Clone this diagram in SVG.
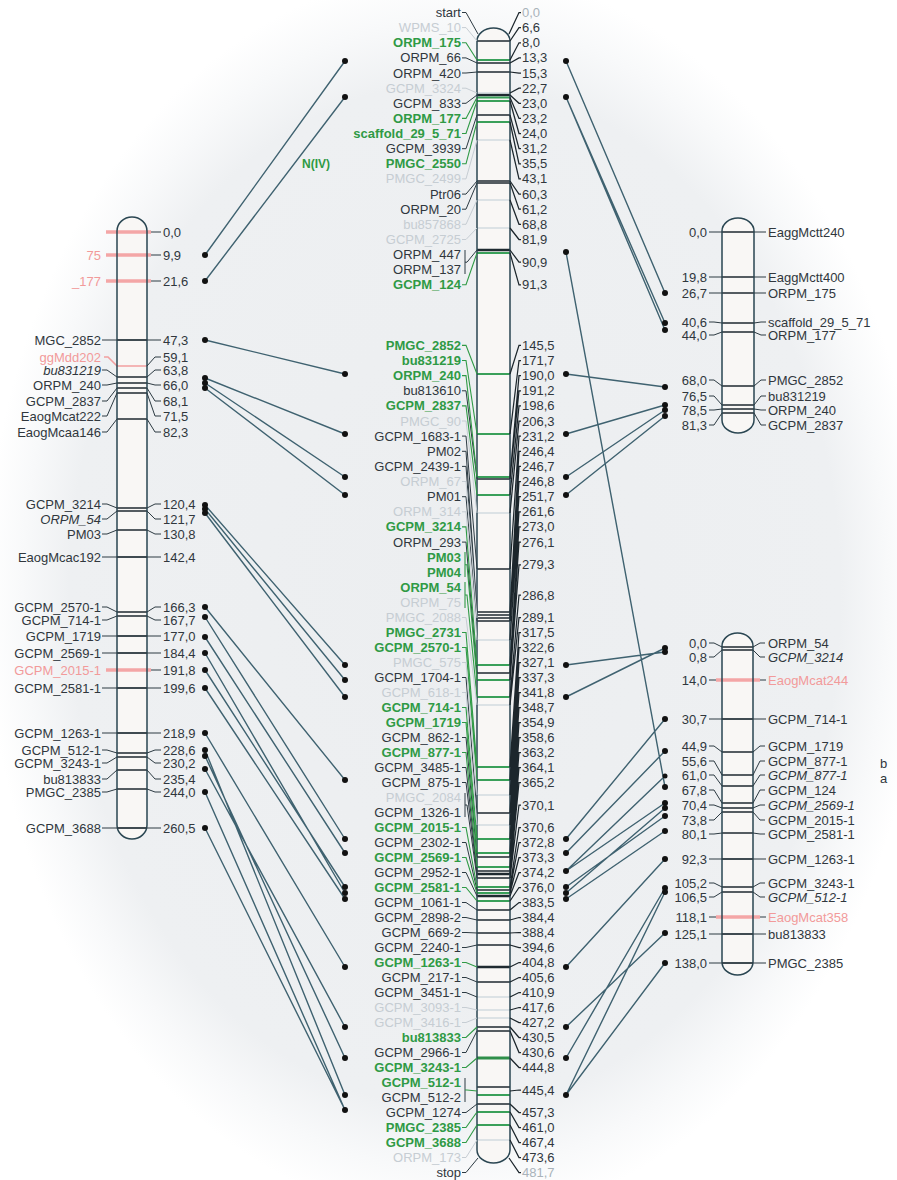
<svg xmlns="http://www.w3.org/2000/svg" width="897" height="1180" viewBox="0 0 897 1180">
<defs>
<radialGradient id="bgv" gradientUnits="userSpaceOnUse" cx="0" cy="0" r="1" gradientTransform="translate(455 595) scale(470 625)">
<stop offset="0" stop-color="#eceef0"/>
<stop offset="0.82" stop-color="#eef0f2"/>
<stop offset="0.92" stop-color="#f8f9fa"/>
<stop offset="1" stop-color="#ffffff"/>
</radialGradient>
<style>
text{font-family:"Liberation Sans",Arial,sans-serif;font-size:13px;fill:#30373d}
.e{text-anchor:end}
.g{fill:#2f9a45;font-weight:bold}
.f{fill:#c6cdd3}
.r{fill:#f29a9a}
.i{font-style:italic}
.lt{fill:#a9b3ba}
.chf{fill:#f9f7f5}
.cho{fill:none;stroke:#2a4652;stroke-width:1.5}
.bd{stroke:#1f2a30;stroke-width:1.4;fill:none}
.bk{stroke:#1f2a30;stroke-width:2.6;fill:none}
.bg{stroke:#3aa05a;stroke-width:1.8;fill:none}
.bgk{stroke:#2f8f4a;stroke-width:3;fill:none}
.bf{stroke:#bfcdd5;stroke-width:1.2;fill:none}
.br{stroke:#f4a6a6;stroke-width:3.5;fill:none}
.brt{stroke:#f2a0a0;stroke-width:1.6;fill:none}
.ld{stroke:#2c3a42;stroke-width:1;fill:none}
.lr{stroke:#1c262c;stroke-width:1.25;fill:none}
.lg{stroke:#2f9a45;stroke-width:1.1;fill:none}
.lf{stroke:#c6cdd3;stroke-width:1;fill:none}
.cn{stroke:#3f6270;stroke-width:1.4;fill:none}
.dot{fill:#111}
</style>
</defs>
<rect width="897" height="1180" fill="#ffffff"/>
<rect width="897" height="1180" fill="url(#bgv)"/>

<g id="chrCentral">
<rect class="chf" x="477" y="28" width="33" height="1135" rx="16.5" ry="13"/>
<path class="bd" d="M477 41H510M477 63H510M477 72H510M477 115H510M477 181H510M477 183H510M477 479H510M477 569H510M477 612H510M477 615H510M477 618H510M477 621H510M477 673H510M477 813H510M477 857H510M477 871H510M477 878H510M477 890H510M477 910H510M477 920H510M477 933H510M477 945H510M477 982H510M477 1027H510M477 1031H510M477 1087H510M477 1104H510"/>
<path class="bk" d="M477 95H510M477 250H510M477 874H510M477 896H510M477 967H510"/>
<path class="bg" d="M477 60H510M477 97.5H510M477 101H510M477 122H510M477 253H510M477 374H510M477 434H510M477 477H510M477 495H510M477 665H510M477 680H510M477 697H510M477 767H510M477 780H510M477 839H510M477 853H510M477 867H510M477 887H510M477 893H510M477 901H510M477 1095H510M477 1112H510M477 1125H510"/>
<path class="bgk" d="M477 1058H510"/>
<path class="bf" d="M477 93H510M477 140H510M477 200H510M477 228H510M477 513H510M477 640H510M477 705H510M477 795H510M477 825H510M477 997H510M477 1010H510M477 1018H510M477 1140H510"/>
<rect class="cho" x="477" y="28" width="33" height="1135" rx="16.5" ry="13"/>
<path class="ld" d="M462 12.5h4L478 34M462 57.9h4L477 63M462 73h4L477 72M462 103.3h4L477 95M462 148.7h4L477 115M462 194.1h4L477 181M462 209.2h4L477 183M465 250V274M465 262.2h2L477 250M462 390.8h4L477 479M462 436.1h4L477 569M462 451.3h4L477 612M462 466.4h4L477 615M462 496.7h4L477 621M462 542.1h4L477 673M462 677.5h4L477 813M462 737.5h4L477 857M462 767.5h4L477 871M462 782.5h4L477 874M465 793V817M465 805h2L477 878M462 842.5h4L477 890M462 872.5h4L477 896M462 902.5h4L477 910M462 917.5h4L477 920M462 932.5h4L477 933M462 947.5h4L477 945M462 977.5h4L477 982M462 992.5h4L477 997M462 1052.5h4L477 1031M465 1078V1102M462 1112.5h4L477 1104M462 1172.5h4L478 1158"/>
<path class="lg" d="M462 42.8h4L477 60M462 118.4h4L477 97.5M462 133.5h4L477 101M462 163.8h4L477 122M462 284.8h4L477 253M462 345.4h4L477 374M462 360.5h4L477 434M462 375.6h4L477 477M462 405.9h4L477 495M462 526.9h4L477 665M465 552V577M465 564.8h2L477 680M465 582V608M465 595h2L477 697M462 632.5h4L477 767M462 647.5h4L477 780M462 707.5h4L477 839M462 722.5h4L477 853M462 752.5h4L477 867M462 827.5h4L477 887M462 857.5h4L477 893M462 887.5h4L477 901M462 962.5h4L477 967M462 1037.5h4L477 1027M462 1067.5h4L477 1058M465 1090h2L477 1091M462 1127.5h4L477 1112M462 1142.5h4L477 1125"/>
<path class="lf" d="M462 27.6h4L477 41M462 88.2h4L477 93M462 178.9h4L477 140M462 224.3h4L477 200M462 239.5h4L477 228M462 421h4L477 513M462 481.5h4L477 618M462 511.8h4L477 640M462 617.5h4L477 705M462 662.5h4L477 795M462 692.5h4L477 825M462 1007.5h4L477 1010M462 1022.5h4L477 1018M462 1157.5h4L477 1140"/>
<path class="lr" d="M509 34L519 12.5h2M510 41L519 27.6h2M510 60L519 42.8h2M510 63L519 57.9h2M510 72L519 73h2M510 93L519 88.2h2M510 95L519 103.3h2M510 97.5L519 118.4h2M510 101L519 133.5h2M510 115L519 148.7h2M510 122L519 163.8h2M510 140L519 178.9h2M510 181L519 194.1h2M510 183L519 209.2h2M510 200L519 224.3h2M510 228L519 239.5h2M510 250L519 262.2h2M510 253L519 284.8h2M510 374L519 345.4h2M510 434L519 360.5h2M510 477L519 375.6h2M510 479L519 390.8h2M510 495L519 405.9h2M510 513L519 421h2M510 569L519 436.1h2M510 612L519 451.3h2M510 615L519 466.4h2M510 618L519 481.5h2M510 621L519 496.7h2M510 640L519 511.8h2M510 665L519 526.9h2M510 673L519 542.1h2M510 680L519 564.8h2M510 697L519 595h2M510 705L519 617.5h2M510 767L519 632.5h2M510 780L519 647.5h2M510 795L519 662.5h2M510 813L519 677.5h2M510 825L519 692.5h2M510 839L519 707.5h2M510 853L519 722.5h2M510 857L519 737.5h2M510 867L519 752.5h2M510 871L519 767.5h2M510 874L519 782.5h2M510 878L519 805h2M510 887L519 827.5h2M510 890L519 842.5h2M510 893L519 857.5h2M510 896L519 872.5h2M510 901L519 887.5h2M510 910L519 902.5h2M510 920L519 917.5h2M510 933L519 932.5h2M510 945L519 947.5h2M510 967L519 962.5h2M510 982L519 977.5h2M510 997L519 992.5h2M510 1010L519 1007.5h2M510 1018L519 1022.5h2M510 1027L519 1037.5h2M510 1031L519 1052.5h2M510 1058L519 1067.5h2M510 1091L519 1090h2M510 1104L519 1112.5h2M510 1112L519 1127.5h2M510 1125L519 1142.5h2M510 1140L519 1157.5h2M509 1158L519 1172.5h2"/>
<g class="e">
<text x="461" y="17">start</text>
<text x="461" y="32.1" class="f">WPMS_10</text>
<text x="461" y="47.3" class="g">ORPM_175</text>
<text x="461" y="62.4">ORPM_66</text>
<text x="461" y="77.5">ORPM_420</text>
<text x="461" y="92.7" class="f">GCPM_3324</text>
<text x="461" y="107.8">GCPM_833</text>
<text x="461" y="122.9" class="g">ORPM_177</text>
<text x="461" y="138" class="g">scaffold_29_5_71</text>
<text x="461" y="153.2">GCPM_3939</text>
<text x="461" y="168.3" class="g">PMGC_2550</text>
<text x="461" y="183.4" class="f">PMGC_2499</text>
<text x="461" y="198.6">Ptr06</text>
<text x="461" y="213.7">ORPM_20</text>
<text x="461" y="228.8" class="f">bu857868</text>
<text x="461" y="244" class="f">GCPM_2725</text>
<text x="461" y="259.1">ORPM_447</text>
<text x="461" y="274.2">ORPM_137</text>
<text x="461" y="289.3" class="g">GCPM_124</text>
<text x="461" y="349.9" class="g">PMGC_2852</text>
<text x="461" y="365" class="g">bu831219</text>
<text x="461" y="380.1" class="g">ORPM_240</text>
<text x="461" y="395.3">bu813610</text>
<text x="461" y="410.4" class="g">GCPM_2837</text>
<text x="461" y="425.5" class="f">PMGC_90</text>
<text x="461" y="440.6">GCPM_1683-1</text>
<text x="461" y="455.8">PM02</text>
<text x="461" y="470.9">GCPM_2439-1</text>
<text x="461" y="486" class="f">ORPM_67</text>
<text x="461" y="501.2">PM01</text>
<text x="461" y="516.3" class="f">ORPM_314</text>
<text x="461" y="531.4" class="g">GCPM_3214</text>
<text x="461" y="546.6">ORPM_293</text>
<text x="461" y="561.7" class="g">PM03</text>
<text x="461" y="576.8" class="g">PM04</text>
<text x="461" y="592" class="g">ORPM_54</text>
<text x="461" y="607" class="f">ORPM_75</text>
<text x="461" y="622" class="f">PMGC_2088</text>
<text x="461" y="637" class="g">PMGC_2731</text>
<text x="461" y="652" class="g">GCPM_2570-1</text>
<text x="461" y="667" class="f">PMGC_575</text>
<text x="461" y="682">GCPM_1704-1</text>
<text x="461" y="697" class="f">GCPM_618-1</text>
<text x="461" y="712" class="g">GCPM_714-1</text>
<text x="461" y="727" class="g">GCPM_1719</text>
<text x="461" y="742">GCPM_862-1</text>
<text x="461" y="757" class="g">GCPM_877-1</text>
<text x="461" y="772">GCPM_3485-1</text>
<text x="461" y="787">GCPM_875-1</text>
<text x="461" y="802" class="f">PMGC_2084</text>
<text x="461" y="817">GCPM_1326-1</text>
<text x="461" y="832" class="g">GCPM_2015-1</text>
<text x="461" y="847">GCPM_2302-1</text>
<text x="461" y="862" class="g">GCPM_2569-1</text>
<text x="461" y="877">GCPM_2952-1</text>
<text x="461" y="892" class="g">GCPM_2581-1</text>
<text x="461" y="907">GCPM_1061-1</text>
<text x="461" y="922">GCPM_2898-2</text>
<text x="461" y="937">GCPM_669-2</text>
<text x="461" y="952">GCPM_2240-1</text>
<text x="461" y="967" class="g">GCPM_1263-1</text>
<text x="461" y="982">GCPM_217-1</text>
<text x="461" y="997">GCPM_3451-1</text>
<text x="461" y="1012" class="f">GCPM_3093-1</text>
<text x="461" y="1027" class="f">GCPM_3416-1</text>
<text x="461" y="1042" class="g">bu813833</text>
<text x="461" y="1057">GCPM_2966-1</text>
<text x="461" y="1072" class="g">GCPM_3243-1</text>
<text x="461" y="1087" class="g">GCPM_512-1</text>
<text x="461" y="1102">GCPM_512-2</text>
<text x="461" y="1117">GCPM_1274</text>
<text x="461" y="1132" class="g">PMGC_2385</text>
<text x="461" y="1147" class="g">GCPM_3688</text>
<text x="461" y="1162" class="f">ORPM_173</text>
<text x="461" y="1177">stop</text>
</g>
<g>
<text x="522" y="17" class="lt">0,0</text>
<text x="522" y="32.1">6,6</text>
<text x="522" y="47.3">8,0</text>
<text x="522" y="62.4">13,3</text>
<text x="522" y="77.5">15,3</text>
<text x="522" y="92.7">22,7</text>
<text x="522" y="107.8">23,0</text>
<text x="522" y="122.9">23,2</text>
<text x="522" y="138">24,0</text>
<text x="522" y="153.2">31,2</text>
<text x="522" y="168.3">35,5</text>
<text x="522" y="183.4">43,1</text>
<text x="522" y="198.6">60,3</text>
<text x="522" y="213.7">61,2</text>
<text x="522" y="228.8">68,8</text>
<text x="522" y="244">81,9</text>
<text x="522" y="266.7">90,9</text>
<text x="522" y="289.3">91,3</text>
<text x="522" y="349.9">145,5</text>
<text x="522" y="365">171,7</text>
<text x="522" y="380.1">190,0</text>
<text x="522" y="395.3">191,2</text>
<text x="522" y="410.4">198,6</text>
<text x="522" y="425.5">206,3</text>
<text x="522" y="440.6">231,2</text>
<text x="522" y="455.8">246,4</text>
<text x="522" y="470.9">246,7</text>
<text x="522" y="486">246,8</text>
<text x="522" y="501.2">251,7</text>
<text x="522" y="516.3">261,6</text>
<text x="522" y="531.4">273,0</text>
<text x="522" y="546.6">276,1</text>
<text x="522" y="569.3">279,3</text>
<text x="522" y="599.5">286,8</text>
<text x="522" y="622">289,1</text>
<text x="522" y="637">317,5</text>
<text x="522" y="652">322,6</text>
<text x="522" y="667">327,1</text>
<text x="522" y="682">337,3</text>
<text x="522" y="697">341,8</text>
<text x="522" y="712">348,7</text>
<text x="522" y="727">354,9</text>
<text x="522" y="742">358,6</text>
<text x="522" y="757">363,2</text>
<text x="522" y="772">364,1</text>
<text x="522" y="787">365,2</text>
<text x="522" y="809.5">370,1</text>
<text x="522" y="832">370,6</text>
<text x="522" y="847">372,8</text>
<text x="522" y="862">373,3</text>
<text x="522" y="877">374,2</text>
<text x="522" y="892">376,0</text>
<text x="522" y="907">383,5</text>
<text x="522" y="922">384,4</text>
<text x="522" y="937">388,4</text>
<text x="522" y="952">394,6</text>
<text x="522" y="967">404,8</text>
<text x="522" y="982">405,6</text>
<text x="522" y="997">410,9</text>
<text x="522" y="1012">417,6</text>
<text x="522" y="1027">427,2</text>
<text x="522" y="1042">430,5</text>
<text x="522" y="1057">430,6</text>
<text x="522" y="1072">444,8</text>
<text x="522" y="1094.5">445,4</text>
<text x="522" y="1117">457,3</text>
<text x="522" y="1132">461,0</text>
<text x="522" y="1147">467,4</text>
<text x="522" y="1162">473,6</text>
<text x="522" y="1177" class="lt">481,7</text>
</g>
</g>

<g id="chrLeft">
<rect class="chf" x="117" y="217" width="30" height="622" rx="15" ry="14"/>
<path class="br" d="M106 232H151M106 255H151M106 281H151M106 670H151"/>
<path class="brt" d="M104 357h4L117 366H147"/>
<path class="bd" d="M117 340H147M117 377H147M117 383H147M117 388H147M117 393H147M117 419H147M117 508H147M117 511H147M117 530H147M117 557H147M117 612H147M117 616H147M117 636H147M117 653H147M117 688H147M117 733H147M117 753H147M117 757H147M117 770H147M117 789H147M117 828H147"/>
<rect class="cho" x="117" y="217" width="30" height="622" rx="15" ry="14"/>
<path class="ld" d="M151 232H161M151 255H161M151 281H161M102 340H161M147 366L155 357h6M102 370h5L117 377M147 377L155 370h6M102 385h5L117 383M147 383L155 385h6M102 401h5L117 388M147 388L155 401h6M102 416h5L117 393M147 393L155 416h6M102 432h5L117 419M147 419L155 432h6M102 504h5L117 508M147 508L155 504h6M102 519h5L117 511M147 511L155 519h6M102 534h5L117 530M147 530L155 534h6M102 557H161M102 607h5L117 612M147 612L155 607h6M102 620h5L117 616M147 616L155 620h6M102 636H161M102 653H161M151 670H161M102 688H161M102 733H161M102 750h5L117 753M147 753L155 750h6M102 763h5L117 757M147 757L155 763h6M102 779h5L117 770M147 770L155 779h6M102 792h5L117 789M147 789L155 792h6M102 828H161"/>
<g class="e">
<text x="101" y="259.5" class="r">75</text>
<text x="101" y="285.5" class="r">_177</text>
<text x="101" y="344.5">MGC_2852</text>
<text x="101" y="361.5" class="r">ggMdd202</text>
<text x="101" y="374.5" class="i">bu831219</text>
<text x="101" y="389.5">ORPM_240</text>
<text x="101" y="405.5">GCPM_2837</text>
<text x="101" y="420.5">EaogMcat222</text>
<text x="101" y="436.5">EaogMcaa146</text>
<text x="101" y="508.5">GCPM_3214</text>
<text x="101" y="523.5" class="i">ORPM_54</text>
<text x="101" y="538.5">PM03</text>
<text x="101" y="561.5">EaogMcac192</text>
<text x="101" y="611.5">GCPM_2570-1</text>
<text x="101" y="624.5">GCPM_714-1</text>
<text x="101" y="640.5">GCPM_1719</text>
<text x="101" y="657.5">GCPM_2569-1</text>
<text x="101" y="674.5" class="r">GCPM_2015-1</text>
<text x="101" y="692.5">GCPM_2581-1</text>
<text x="101" y="737.5">GCPM_1263-1</text>
<text x="101" y="754.5">GCPM_512-1</text>
<text x="101" y="767.5">GCPM_3243-1</text>
<text x="101" y="783.5">bu813833</text>
<text x="101" y="796.5">PMGC_2385</text>
<text x="101" y="832.5">GCPM_3688</text>
</g>
<g>
<text x="163" y="236.5">0,0</text>
<text x="163" y="259.5">9,9</text>
<text x="163" y="285.5">21,6</text>
<text x="163" y="344.5">47,3</text>
<text x="163" y="361.5">59,1</text>
<text x="163" y="374.5">63,8</text>
<text x="163" y="389.5">66,0</text>
<text x="163" y="405.5">68,1</text>
<text x="163" y="420.5">71,5</text>
<text x="163" y="436.5">82,3</text>
<text x="163" y="508.5">120,4</text>
<text x="163" y="523.5">121,7</text>
<text x="163" y="538.5">130,8</text>
<text x="163" y="561.5">142,4</text>
<text x="163" y="611.5">166,3</text>
<text x="163" y="624.5">167,7</text>
<text x="163" y="640.5">177,0</text>
<text x="163" y="657.5">184,4</text>
<text x="163" y="674.5">191,8</text>
<text x="163" y="692.5">199,6</text>
<text x="163" y="737.5">218,9</text>
<text x="163" y="754.5">228,6</text>
<text x="163" y="767.5">230,2</text>
<text x="163" y="783.5">235,4</text>
<text x="163" y="796.5">244,0</text>
<text x="163" y="832.5">260,5</text>
</g>
</g>

<g id="chrRightTop">
<rect class="chf" x="722" y="218" width="32" height="215" rx="16" ry="13"/>
<path class="bd" d="M722 232H754M722 277H754M722 293H754M722 323H754M722 332H754M722 386H754M722 405H754M722 409H754M722 413H754"/>
<rect class="cho" x="722" y="218" width="32" height="215" rx="16" ry="13"/>
<path class="ld" d="M709 232H722M754 232H766M709 277H722M754 277H766M709 293H722M754 293H766M709 322h5L722 323M754 323L761 322h5M709 335h5L722 332M754 332L761 335h5M709 380h5L722 386M754 386L761 380h5M709 396h5L722 405M754 405L761 396h5M709 410h5L722 409M754 409L761 410h5M709 425h5L722 413M754 413L761 425h5"/>
<g class="e">
<text x="707" y="236.5">0,0</text>
<text x="707" y="281.5">19,8</text>
<text x="707" y="297.5">26,7</text>
<text x="707" y="326.5">40,6</text>
<text x="707" y="339.5">44,0</text>
<text x="707" y="384.5">68,0</text>
<text x="707" y="400.5">76,5</text>
<text x="707" y="414.5">78,5</text>
<text x="707" y="429.5">81,3</text>
</g>
<g>
<text x="768" y="236.5">EaggMctt240</text>
<text x="768" y="281.5">EaggMctt400</text>
<text x="768" y="297.5">ORPM_175</text>
<text x="768" y="326.5">scaffold_29_5_71</text>
<text x="768" y="339.5">ORPM_177</text>
<text x="768" y="384.5">PMGC_2852</text>
<text x="768" y="400.5">bu831219</text>
<text x="768" y="414.5">ORPM_240</text>
<text x="768" y="429.5">GCPM_2837</text>
</g>
</g>

<g id="chrRightBottom">
<rect class="chf" x="722" y="633" width="31" height="342" rx="15.5" ry="13"/>
<path class="br" d="M716 680H760"/>
<path class="bd" d="M722 647H753M722 650H753M722 719H753M722 752H753M722 775H753M722 786H753M722 803H753M722 808H753M722 812H753M722 833H753M722 859H753M722 887H753M722 892H753M722 934H753M722 963H753"/>
<path class="br" d="M716 917H760"/>
<rect class="cho" x="722" y="633" width="31" height="342" rx="15.5" ry="13"/>
<path class="ld" d="M709 643h5L722 647M753 647L760 643h5M709 657h5L722 650M753 650L760 657h5M709 680H716M760 680H766M709 719H766M709 746h5L722 752M753 752L760 746h5M709 761h5L722 775M753 775L760 761h5M709 775h5L722 786M753 786L760 775h5M709 790h5L722 803M753 803L760 790h5M709 805h5L722 808M753 808L760 805h5M709 820h5L722 812M753 812L760 820h5M709 834h5L722 833M753 833L760 834h5M709 859H766M709 883h5L722 887M753 887L760 883h5M709 897h5L722 892M753 892L760 897h5M709 917H716M760 917H766M709 934H766M709 963H766"/>
<g class="e">
<text x="707" y="647.5">0,0</text>
<text x="707" y="661.5">0,8</text>
<text x="707" y="684.5">14,0</text>
<text x="707" y="723.5">30,7</text>
<text x="707" y="750.5">44,9</text>
<text x="707" y="765.5">55,6</text>
<text x="707" y="779.5">61,0</text>
<text x="707" y="794.5">67,8</text>
<text x="707" y="809.5">70,4</text>
<text x="707" y="824.5">73,8</text>
<text x="707" y="838.5">80,1</text>
<text x="707" y="863.5">92,3</text>
<text x="707" y="887.5">105,2</text>
<text x="707" y="901.5">106,5</text>
<text x="707" y="921.5">118,1</text>
<text x="707" y="938.5">125,1</text>
<text x="707" y="967.5">138,0</text>
</g>
<g>
<text x="768" y="647.5">ORPM_54</text>
<text x="768" y="661.5" class="i">GCPM_3214</text>
<text x="768" y="684.5" class="r">EaogMcat244</text>
<text x="768" y="723.5">GCPM_714-1</text>
<text x="768" y="750.5">GCPM_1719</text>
<text x="768" y="765.5">GCPM_877-1</text>
<text x="768" y="779.5" class="i">GCPM_877-1</text>
<text x="768" y="794.5">GCPM_124</text>
<text x="768" y="809.5" class="i">GCPM_2569-1</text>
<text x="768" y="824.5">GCPM_2015-1</text>
<text x="768" y="838.5">GCPM_2581-1</text>
<text x="768" y="863.5">GCPM_1263-1</text>
<text x="768" y="887.5">GCPM_3243-1</text>
<text x="768" y="901.5" class="i">GCPM_512-1</text>
<text x="768" y="921.5" class="r">EaogMcat358</text>
<text x="768" y="938.5">bu813833</text>
<text x="768" y="967.5">PMGC_2385</text>
<text x="880" y="767.5">b</text>
<text x="880" y="782.5">a</text>
</g>
</g>

<g id="label-N-IV">
<text x="316" y="168" class="g" style="font-size:12px;text-anchor:middle">N(IV)</text>
</g>

<g id="connectors">
<path class="cn" d="M205 255L345 61M205 281L345 97M205 340L345 374M205 378L345 434M205 383L345 477M205 388L345 495M205 505L345 665M205 509L345 680M205 513L345 697M205 607L345 780M205 617L345 839M205 637L345 853M205 653L345 893M205 670L345 887M205 688L345 899M205 733L345 967M205 750L345 1095M205 756L345 1058M205 769L345 1027M205 792L345 1110M205 828L345 1110"/>
<path class="cn" d="M566 61L665 293M566 97L665 323M566 97L665 330M566 374L665 387M566 434L665 405M566 477L665 410M566 495L665 416"/>
<path class="cn" d="M566 665L665 652M566 697L665 648M566 252L665 787M566 839L665 719M566 853L665 751M566 871L665 776M566 871L665 803M566 887L665 816M566 893L665 808M566 899L665 831M566 967L665 859M566 1027L665 933M566 1058L665 888M566 1095L665 892M566 1095L665 963"/>
<g class="dot">
<circle cx="205" cy="255" r="3"/><circle cx="205" cy="281" r="3"/><circle cx="205" cy="340" r="3"/><circle cx="205" cy="378" r="3"/><circle cx="205" cy="383" r="3"/><circle cx="205" cy="388" r="3"/><circle cx="205" cy="505" r="3"/><circle cx="205" cy="509" r="3"/><circle cx="205" cy="513" r="3"/><circle cx="205" cy="607" r="3"/><circle cx="205" cy="617" r="3"/><circle cx="205" cy="637" r="3"/><circle cx="205" cy="653" r="3"/><circle cx="205" cy="670" r="3"/><circle cx="205" cy="688" r="3"/><circle cx="205" cy="733" r="3"/><circle cx="205" cy="750" r="3"/><circle cx="205" cy="756" r="3"/><circle cx="205" cy="769" r="3"/><circle cx="205" cy="792" r="3"/><circle cx="205" cy="828" r="3"/>
<circle cx="345" cy="61" r="3"/><circle cx="345" cy="97" r="3"/><circle cx="345" cy="374" r="3"/><circle cx="345" cy="434" r="3"/><circle cx="345" cy="477" r="3"/><circle cx="345" cy="495" r="3"/><circle cx="345" cy="665" r="3"/><circle cx="345" cy="680" r="3"/><circle cx="345" cy="697" r="3"/><circle cx="345" cy="780" r="3"/><circle cx="345" cy="839" r="3"/><circle cx="345" cy="853" r="3"/><circle cx="345" cy="887" r="3"/><circle cx="345" cy="893" r="3"/><circle cx="345" cy="899" r="3"/><circle cx="345" cy="967" r="3"/><circle cx="345" cy="1027" r="3"/><circle cx="345" cy="1058" r="3"/><circle cx="345" cy="1095" r="3"/><circle cx="345" cy="1110" r="3"/>
<circle cx="566" cy="61" r="3"/><circle cx="566" cy="97" r="3"/><circle cx="566" cy="252" r="3"/><circle cx="566" cy="374" r="3"/><circle cx="566" cy="434" r="3"/><circle cx="566" cy="477" r="3"/><circle cx="566" cy="495" r="3"/><circle cx="566" cy="665" r="3"/><circle cx="566" cy="697" r="3"/><circle cx="566" cy="839" r="3"/><circle cx="566" cy="853" r="3"/><circle cx="566" cy="871" r="3"/><circle cx="566" cy="887" r="3"/><circle cx="566" cy="893" r="3"/><circle cx="566" cy="899" r="3"/><circle cx="566" cy="967" r="3"/><circle cx="566" cy="1027" r="3"/><circle cx="566" cy="1058" r="3"/><circle cx="566" cy="1095" r="3"/>
<circle cx="665" cy="293" r="3"/><circle cx="665" cy="323" r="3"/><circle cx="665" cy="330" r="3"/><circle cx="665" cy="387" r="3"/><circle cx="665" cy="405" r="3"/><circle cx="665" cy="410" r="3"/><circle cx="665" cy="416" r="3"/>
<circle cx="665" cy="648" r="3"/><circle cx="665" cy="652" r="3"/><circle cx="665" cy="719" r="3"/><circle cx="665" cy="751" r="3"/><circle cx="665" cy="776" r="2.5"/><circle cx="665" cy="787" r="3"/><circle cx="665" cy="803" r="3"/><circle cx="665" cy="808" r="3"/><circle cx="665" cy="816" r="3"/><circle cx="665" cy="831" r="3"/><circle cx="665" cy="859" r="3"/><circle cx="665" cy="888" r="3"/><circle cx="665" cy="892" r="3"/><circle cx="665" cy="933" r="3"/><circle cx="665" cy="963" r="3"/>
</g>
</g>
</svg>
